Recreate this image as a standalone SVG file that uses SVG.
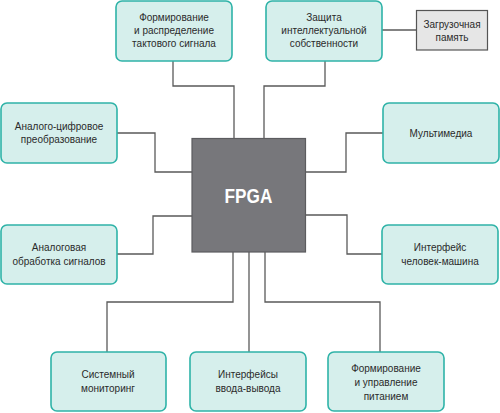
<svg xmlns="http://www.w3.org/2000/svg" width="500" height="413" viewBox="0 0 500 413">
<style>
.box{fill:#d6efec;stroke:#2fb3a8;stroke-width:1.6}
.mem{fill:#e6e6e6;stroke:#555;stroke-width:1.2}
.fpga{fill:#77777b;stroke:#5c5c5f;stroke-width:1.2}
.t{font-family:"Liberation Sans",Arial,sans-serif;font-size:11.5px;fill:#2a2a2a;text-anchor:middle;transform-box:fill-box;transform-origin:center;transform:scaleX(0.87)}
.big{font-family:"Liberation Sans",Arial,sans-serif;font-size:20px;font-weight:bold;fill:#fff;text-anchor:middle;transform-box:fill-box;transform-origin:center;transform:scaleX(0.86)}
.c{fill:none;stroke:#5a5a5a;stroke-width:1.3}
</style>
<rect width="500" height="413" fill="#fff"/>
<g id="connectors">
<polyline class="c" points="173,61 173,86 234,86 234,138"/>
<polyline class="c" points="325,61 325,86 264,86 264,138"/>
<polyline class="c" points="382,30 416,30"/>
<polyline class="c" points="117,133 155,133 155,172 192,172"/>
<polyline class="c" points="383,133 346,133 346,172 306,172"/>
<polyline class="c" points="117,254 153,254 153,216 192,216"/>
<polyline class="c" points="306,215 347,215 347,254 382,254"/>
<polyline class="c" points="233,252 233,302 107,302 107,352"/>
<polyline class="c" points="249,252 249,352"/>
<polyline class="c" points="265,252 265,302 380,302 380,352"/>
</g>
<g id="fpga">
<rect class="fpga" x="192" y="138.5" width="113.5" height="113.5"/>
<text class="big" x="248.5" y="203">FPGA</text>
</g>
<g id="clock">
<rect class="box" x="116" y="1" width="116" height="60" rx="6"/>
<text class="t" x="174" y="21">Формирование</text>
<text class="t" x="174" y="34">и распределение</text>
<text class="t" x="174" y="47">тактового сигнала</text>
</g>
<g id="ip">
<rect class="box" x="266" y="1" width="116" height="60" rx="6"/>
<text class="t" x="324" y="21">Защита</text>
<text class="t" x="324" y="34">интеллектуальной</text>
<text class="t" x="324" y="47">собственности</text>
</g>
<g id="memory">
<rect class="mem" x="416.5" y="10.5" width="71" height="39.5"/>
<text class="t" x="452" y="28">Загрузочная</text>
<text class="t" x="452" y="41">память</text>
</g>
<g id="adc">
<rect class="box" x="1" y="103" width="116" height="60" rx="6"/>
<text class="t" x="59" y="130">Аналого-цифровое</text>
<text class="t" x="59" y="143">преобразование</text>
</g>
<g id="multimedia">
<rect class="box" x="383" y="103" width="116" height="60" rx="6"/>
<text class="t" x="441" y="137">Мультимедиа</text>
</g>
<g id="analog">
<rect class="box" x="1" y="225" width="116" height="59" rx="6"/>
<text class="t" x="59" y="251">Аналоговая</text>
<text class="t" x="59" y="265">обработка сигналов</text>
</g>
<g id="hmi">
<rect class="box" x="382" y="225" width="116" height="59" rx="6"/>
<text class="t" x="440" y="251">Интерфейс</text>
<text class="t" x="440" y="265">человек-машина</text>
</g>
<g id="monitoring">
<rect class="box" x="51" y="352" width="115" height="59" rx="6"/>
<text class="t" x="108" y="378">Системный</text>
<text class="t" x="108" y="392">мониторинг</text>
</g>
<g id="io">
<rect class="box" x="190" y="352" width="116" height="59" rx="6"/>
<text class="t" x="248" y="378">Интерфейсы</text>
<text class="t" x="248" y="392">ввода-вывода</text>
</g>
<g id="power">
<rect class="box" x="328" y="352" width="116" height="59" rx="6"/>
<text class="t" x="386" y="372">Формирование</text>
<text class="t" x="386" y="386">и управление</text>
<text class="t" x="386" y="400">питанием</text>
</g>
</svg>
